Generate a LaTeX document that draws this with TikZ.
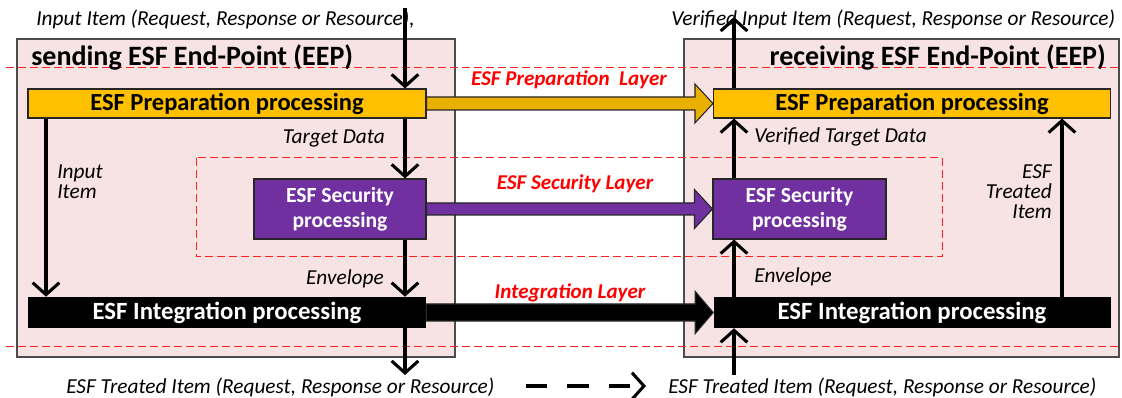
\documentclass[tikz,border=0pt]{standalone}
\usepackage{fontspec}
\setmainfont{Carlito}
\usepackage{tikz}
\usetikzlibrary{arrows.meta,positioning,calc}
\definecolor{eeppink}{HTML}{F7E3E3}
\definecolor{prepgold}{HTML}{FFC000}
\definecolor{arrowgold}{HTML}{E9B000}
\definecolor{secpurple}{HTML}{7030A0}
\definecolor{layerred}{HTML}{FF2020}
\newcommand{\layerarrow}[5]{%
  \path[BigArrow, fill=#5] ($(#1.east)+(0,-#3)$) -- ($(#2.west)+(-18,-#3)$)
    -- ($(#2.west)+(-18,-#4)$) -- (#2.west) -- ($(#2.west)+(-18,#4)$)
    -- ($(#2.west)+(-18,#3)$) -- ($(#1.east)+(0,#3)$) -- cycle;}

\begin{document}
\begin{tikzpicture}
  [
    x=0.75pt, y=-0.75pt,
    EEP/.style={rectangle, draw=black!70, fill=eeppink, line width=1pt, inner sep=0pt},
    Layer/.style={draw=layerred, dash pattern=on 6pt off 3pt, line width=0.75pt},
    Prep/.style={rectangle, draw=black!85, fill=prepgold, line width=0.8pt, inner sep=0pt, minimum width=298.5pt, minimum height=21.75pt, font=\fontsize{18.4}{19}\selectfont\bfseries},
    Sec/.style={rectangle, draw=black!85, fill=secpurple, text=white, line width=0.8pt, inner sep=0pt, minimum width=129pt, minimum height=45pt, align=center, font=\fontsize{16.2}{19}\selectfont\bfseries},
    Integ/.style={rectangle, fill=black, text=white, inner sep=0pt, minimum width=298.5pt, minimum height=23.25pt, font=\fontsize{18.6}{19}\selectfont\bfseries},
    Flow/.style={draw, line width=2.3pt, -{Straight Barb[length=9pt, width=20pt]}},
    BigArrow/.style={draw=black!85, line width=0.8pt},
    Label/.style={inner sep=0pt, font=\fontsize{16}{15}\selectfont\itshape},
    LayerLabel/.style={inner sep=0pt, text=red, font=\fontsize{15.8}{15}\selectfont\bfseries\itshape},
    Title/.style={inner sep=0pt, font=\fontsize{21}{22}\selectfont\bfseries}
  ]
  \useasboundingbox (0,0) rectangle (1122,398);

  % End-points
  \node[EEP, minimum width=328.5pt, minimum height=238.5pt] (sender) at (236,198) {};
  \node[EEP, minimum width=326.25pt, minimum height=238.5pt] (receiver) at (901.5,198) {};

  % Layer borders
  \draw[Layer] (6,68) -- (1122,68);
  \draw[Layer] (6,347) -- (1122,347);
  \draw[Layer] (196,158) rectangle (942,257);

  % Processing boxes
  \node[Prep] (lprep) at (227,103.5) {ESF Preparation processing};
  \node[Sec] (lsec) at (340,209) {ESF Security\\processing};
  \node[Integ] (lint) at (227,312.5) {ESF Integration processing};

  \node[Prep, minimum width=297.75pt] (rprep) at (912,103.5) {ESF Preparation processing};
  \node[Sec, minimum width=129.75pt] (rsec) at (799.5,209) {ESF Security\\processing};
  \node[Integ, minimum width=297.75pt] (rint) at (912,312.5) {ESF Integration processing};

  % Layer arrows
  \layerarrow{lprep}{rprep}{6.5}{19.5}{arrowgold}
  \layerarrow{lsec}{rsec}{6}{19.5}{secpurple}
  \layerarrow{lint}{rint}{8.5}{21}{black}

  % Texts
  \node[Label, anchor=west] (inText) at (36,19) {Input Item (Request, Response or Resource),};
  \node[Label, anchor=west] (verText) at (671,19) {Verified Input Item (Request, Response or Resource)};
  \node[Title, anchor=west] (sendTitle) at (31,57) {sending ESF End-Point (EEP)};
  \node[Title, anchor=east] (recvTitle) at (1106,57) {receiving ESF End-Point (EEP)};

  \node[LayerLabel] (prepLayer) at (569,80) {ESF Preparation\ \ Layer};
  \node[LayerLabel] (secLayer) at (575,184) {ESF Security Layer};
  \node[LayerLabel] (intLayer) at (570,293) {Integration Layer};

  \node[Label, anchor=east] (targetLbl) at (385,138) {Target Data};
  \node[Label, anchor=west, align=left] (itemLbl) at (57,182) {Input\\Item};
  \node[Label, anchor=east] (envLeft) at (384,279) {Envelope};
  \node[Label, anchor=west] (verTarget) at (754,137) {Verified Target Data};
  \node[Label, anchor=west] (envRight) at (754,277) {Envelope};
  \node[Label, anchor=east, align=right] (treatedLbl) at (1052,192) {ESF\\Treated\\Item};
  \node[Label, anchor=west] (outLeft) at (66,387) {ESF Treated Item (Request, Response or Resource)};
  \node[Label, anchor=west] (outRight) at (668,387) {ESF Treated Item (Request, Response or Resource)};

  % Lines
  \coordinate (inTop) at (405,8);
  \coordinate (outBot) at (405,375);
  \coordinate (itemX) at (46,0);
  \path[Flow] (inTop) -- (inTop |- lprep.north);
  \path[Flow] (lprep.south -| inTop) -- (lsec.north -| inTop);
  \path[Flow] (lsec.south -| inTop) -- (lint.north -| inTop);
  \path[Flow] (lint.south -| inTop) -- (outBot);
  \path[Flow] (lprep.south -| itemX) -- (lint.north -| itemX);

  \coordinate (verTop) at (734,17);
  \coordinate (inBot) at (734,375);
  \coordinate (treatX) at (1062,0);
  \path[Flow] (rprep.north -| verTop) -- (verTop);
  \path[Flow] (rsec.north -| verTop) -- (rprep.south -| verTop);
  \path[Flow] (rint.north -| verTop) -- (rsec.south -| verTop);
  \path[Flow] (inBot) -- (rint.south -| inBot);
  \path[Flow] (rint.north -| treatX) -- (rprep.south -| treatX);

  \coordinate (legA) at (526,386);
  \coordinate (legB) at (646,386);
  \path[Flow, dash pattern=on 16pt off 15pt] (legA) -- (legB);

\end{tikzpicture}
\end{document}
